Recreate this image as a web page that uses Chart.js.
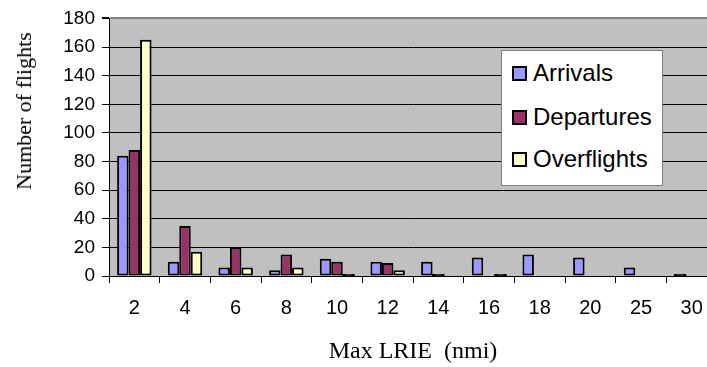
<!DOCTYPE html>
<html><head><meta charset="utf-8">
<script src="https://cdn.jsdelivr.net/npm/chart.js@4"></script>
<style>
html,body{margin:0;padding:0;background:#fff;overflow:hidden;width:707px;height:367px}
#wrap{position:absolute;left:0;top:0;width:717px;height:367px}
.ytitle{position:absolute;left:24px;top:111px;transform:translate(-50%,-50%) rotate(-90deg);font:22px "Liberation Serif";white-space:nowrap;color:#000}
.xtitle{position:absolute;left:413px;top:350px;transform:translate(-50%,-50%);font:24px "Liberation Serif";white-space:pre;color:#000}
#legend{position:absolute;left:501px;top:50px;width:160px;height:134px;background:#fff;border:1px solid #808080}
.item{position:absolute;left:10px;height:26px;display:flex;align-items:center;font:24px "Liberation Sans";color:#000;white-space:nowrap}
.sw{width:11px;height:11px;border:2px solid #000;margin-right:6px}
</style></head>
<body>
<div id="wrap"><canvas id="c" width="717" height="367"></canvas></div>
<div class="ytitle">Number of flights</div>
<div class="xtitle">Max LRIE  (nmi)</div>
<div id="legend"></div>
<script>
const categories = ["2","4","6","8","10","12","14","16","18","20","25","30"];
const seriesNames = ["Arrivals","Departures","Overflights"];
const arrivals    = [84, 10, 6, 4, 12, 10, 10, 13, 15, 13, 6, 1];
const departures  = [88, 35, 20, 15, 10, 9, 1, 0, 0, 0, 0, 0];
const overflights = [165, 17, 6, 6, 1, 4, 0, 1, 0, 0, 0, 0];
const yTicks = [0, 20, 40, 60, 80, 100, 120, 140, 160, 180];
const colors = ["#9999FF", "#993366", "#FFFFCC"];

const bgPlugin = {
  id: 'plotBg',
  beforeDraw(chart) {
    const {ctx, chartArea: a} = chart;
    ctx.save();
    ctx.fillStyle = '#C0C0C0';
    ctx.fillRect(a.left, a.top, a.right - a.left, a.bottom - a.top);
    ctx.restore();
  }
};

const values = [arrivals, departures, overflights];
new Chart(document.getElementById('c'), {
  type: 'bar',
  data: {
    labels: categories,
    datasets: seriesNames.map((n, i) => ({
      label: n,
      data: values[i],
      backgroundColor: c => (c.raw > 0 && c.raw <= 1) ? '#000' : colors[i],
      borderColor: '#000',
      borderWidth: 2,
      borderSkipped: false,
      inflateAmount: c => (c.raw > 0 && c.raw <= 1) ? 0.6 : 0,
      categoryPercentage: 0.68,
      barPercentage: 1.0
    }))
  },
  options: {
    responsive: false,
    animation: false,
    layout: {padding: {top: 17, left: 0, right: 0, bottom: 0}},
    plugins: {legend: {display: false}, tooltip: {enabled: false}},
    scales: {
      x: {
        offset: true,
        afterFit(s) { s.height = 91; },
        grid: {offset: true, drawOnChartArea: false, tickLength: 7, color: '#000', tickColor: '#000'},
        border: {display: true, color: '#000', width: 1},
        ticks: {font: {family: 'Liberation Sans', size: 20}, color: '#000', padding: 13, maxRotation: 0, autoSkip: false}
      },
      y: {
        min: 0, max: 180,
        afterFit(s) { s.width = 109; },
        afterBuildTicks(s) { s.ticks = yTicks.map(v => ({value: v})); },
        grid: {
          color: c => (c.tick && c.tick.value === 180) ? '#808080' : '#000',
          lineWidth: c => (c.tick && c.tick.value === 180) ? 2 : 1,
          tickColor: '#000', tickLength: 7
        },
        border: {display: true, color: '#000', width: 1},
        ticks: {font: {family: 'Liberation Sans', size: 19}, color: '#000', padding: 7}
      }
    }
  },
  plugins: [bgPlugin]
});

const leg = document.getElementById('legend');
const tops = [9, 53, 95];
seriesNames.forEach((n, i) => {
  const d = document.createElement('div');
  d.className = 'item';
  d.style.top = tops[i] + 'px';
  d.innerHTML = '<span class="sw" style="background:' + colors[i] + '"></span><span>' + n + '</span>';
  leg.appendChild(d);
});
</script>
</body></html>
